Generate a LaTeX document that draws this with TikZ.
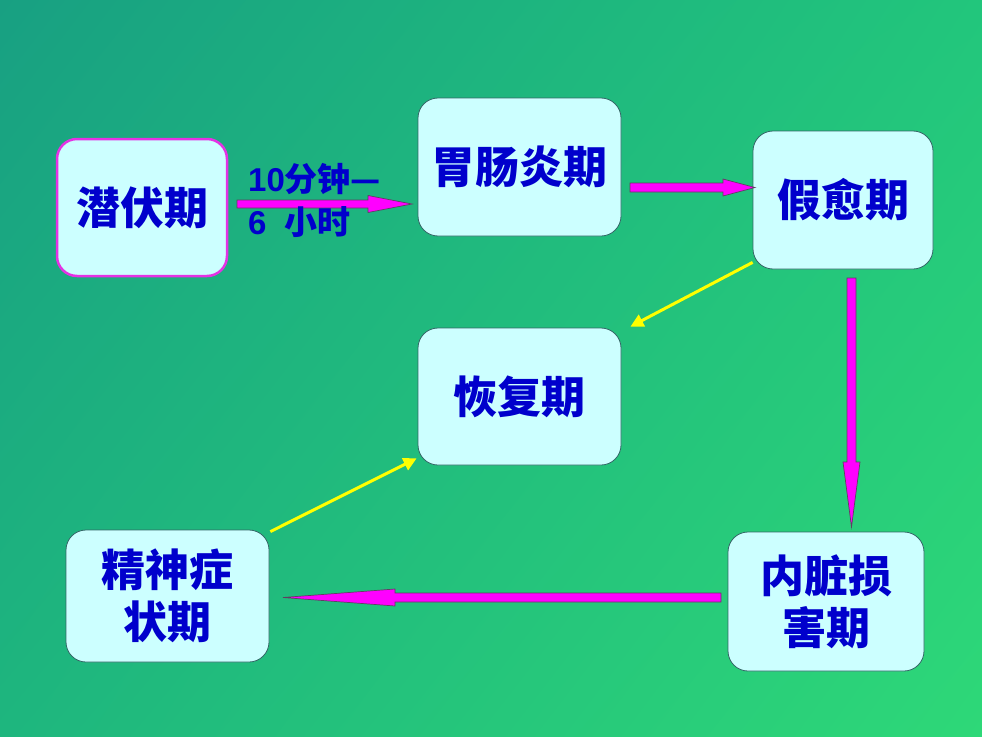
\documentclass[tikz,border=0pt]{standalone}
\usepackage{fontspec}
\usetikzlibrary{calc,arrows.meta,shadings}
\newfontfamily\cjk{Noto Sans CJK SC}
\newfontfamily\latinfont{Liberation Sans}
\definecolor{boxfill}{RGB}{204,255,255}
\definecolor{boxline}{RGB}{51,102,102}
\definecolor{txtblue}{RGB}{0,0,204}
\definecolor{mag}{RGB}{255,0,255}
\definecolor{magline}{RGB}{228,50,228}
\definecolor{arrline}{RGB}{96,64,96}
\definecolor{ylw}{RGB}{255,255,0}
\definecolor{bgUL}{RGB}{24,160,130}
\definecolor{bgUR}{RGB}{34,198,124}
\definecolor{bgLL}{RGB}{30,182,126}
\definecolor{bgLR}{RGB}{46,216,120}
\tikzset{
  stage/.style={draw=boxline, line width=0.8pt, fill=boxfill, rounded corners=20pt,
    inner sep=0pt, align=center, text=txtblue,
    font=\cjk\bfseries\fontsize{44}{52}\selectfont},
  barrow/.style={fill=mag, draw=arrline, line width=0.7pt, line join=miter},
  yarrow/.style={draw=ylw, line width=3pt, -{Triangle[length=13pt,width=13pt]}},
}
\newcommand\blockarrow[5]{%
  \coordinate (ba-h) at ($(#2)!#5!(#1)$);
  \draw[barrow] ($(#1)!#3!90:(#2)$) -- ($(ba-h)!#3!90:(#2)$) -- ($(ba-h)!#4!90:(#2)$)
    -- (#2) -- ($(ba-h)!#4!-90:(#2)$) -- ($(ba-h)!#3!-90:(#2)$) -- ($(#1)!#3!-90:(#2)$) -- cycle;
}
\begin{document}
\begin{tikzpicture}[x=1pt,y=-1pt]
\useasboundingbox (0,0) rectangle (982,736);
\shade[upper left=bgUL, upper right=bgUR, lower left=bgLL, lower right=bgLR] (0,0) rectangle (982,736);

\node[stage, draw=magline, line width=2.5pt, minimum width=170pt, minimum height=137pt] (lat) at (142,207.5) {潜伏期};
\node[stage, minimum width=203pt, minimum height=138pt] (gas) at (519.5,167) {胃肠炎期};
\node[stage, minimum width=180pt, minimum height=138pt] (fake) at (843,200) {假愈期};
\node[stage, minimum width=203pt, minimum height=137pt] (rec) at (519.5,396.5) {恢复期};
\node[stage, minimum width=203pt, minimum height=132pt] (neu) at (167.5,596) {精神症\\状期};
\node[stage, minimum width=196pt, minimum height=139pt] (vis) at (826,601.5) {内脏损\\害期};

% block arrows
\coordinate (a1s) at (237,204);
\coordinate (a1e) at (412,204);
\blockarrow{a1s}{a1e}{4pt}{8.5pt}{44pt}
\coordinate (a2s) at (630,187.5);
\coordinate (a2e) at (755,187.5);
\blockarrow{a2s}{a2e}{4.5pt}{8.5pt}{32pt}
\coordinate (a3s) at (851.5,278);
\coordinate (a3e) at (851.5,527);
\blockarrow{a3s}{a3e}{4.5pt}{8.5pt}{65pt}
\coordinate (a4s) at (721,597.5);
\coordinate (a4e) at (283,597.5);
\blockarrow{a4s}{a4e}{4.5pt}{8.5pt}{112pt}

% label
\node[anchor=north west, inner sep=0pt, align=left, text=txtblue,
  font=\bfseries\fontsize{33}{43}\selectfont] (dur) at (248,163)
  {{\latinfont 10}{\cjk 分钟—}\\{\latinfont 6\ \ }{\cjk 小时}};

% yellow arrows
\draw[yarrow] ([yshift=7pt]fake.south west) -- ([xshift=9pt,yshift=1pt]rec.north east);
\draw[yarrow] ([xshift=1pt,yshift=-2pt]neu.north east) -- ([xshift=-1pt,yshift=7pt]rec.south west);
\end{tikzpicture}
\end{document}
